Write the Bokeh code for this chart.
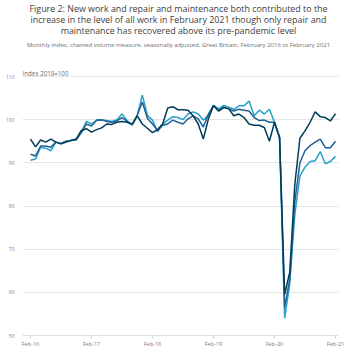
from bokeh.plotting import figure
from bokeh.models import FixedTicker, Label, ColumnDataSource
from bokeh.embed import file_html
from bokeh.resources import INLINE

tick_labels = ["Feb-16", "Feb-17", "Feb-18", "Feb-19", "Feb-20", "Feb-21"]
tick_months = [0, 12, 24, 36, 48, 60]
y_ticks = [50, 60, 70, 80, 90, 100, 110]
months = list(range(61))

repair_maintenance = [
    95.5, 93.7, 95.3, 94.8, 95.5, 94.8, 94.4, 94.8, 95.2, 95.5, 97.5, 97.9,
    97.1, 97.7, 98.1, 99.0, 98.9, 99.4, 99.6, 99.4, 98.9, 100.9, 99.0, 98.0,
    97.0, 97.7, 99.0, 102.7, 103.0, 102.3, 102.3, 102.2, 100.9, 99.0, 95.5, 100.2,
    103.3, 102.0, 102.8, 102.5, 100.9, 101.3, 100.5, 99.0, 98.7, 98.7, 98.2, 95.0,
    99.4, 95.8, 59.5, 64.7, 85.0, 95.7, 97.4, 99.4, 101.8, 100.7, 100.5, 99.7,
    101.4,
]
all_work = [
    92.0, 91.6, 93.9, 93.9, 93.6, 94.8, 94.5, 95.0, 95.2, 95.4, 97.0, 99.0,
    98.5, 99.9, 100.0, 99.6, 99.4, 99.7, 100.5, 99.6, 98.9, 101.0, 104.1, 100.3,
    99.0, 97.5, 98.7, 99.0, 99.9, 99.4, 99.0, 100.2, 100.9, 100.2, 98.3, 101.3,
    103.3, 102.1, 102.9, 102.5, 102.0, 102.4, 102.2, 102.0, 100.5, 99.8, 99.9, 99.4,
    99.4, 95.8, 56.5, 63.0, 81.0, 90.0, 92.8, 94.0, 94.8, 95.5, 93.5, 93.5,
    95.0,
]
new_work = [
    90.6, 90.9, 93.6, 93.4, 92.8, 94.8, 94.4, 95.0, 95.2, 95.3, 97.1, 99.6,
    99.0, 99.8, 99.9, 99.8, 99.6, 100.0, 101.3, 99.8, 98.7, 101.0, 105.7, 101.0,
    99.9, 97.2, 99.0, 99.9, 100.7, 100.5, 100.0, 101.3, 101.8, 101.3, 99.9, 101.0,
    103.3, 102.5, 103.3, 102.9, 102.4, 103.2, 103.2, 104.3, 100.9, 102.2, 101.3, 102.4,
    99.4, 96.0, 54.0, 62.0, 78.0, 87.0, 89.0, 90.3, 90.5, 92.6, 89.8, 90.3,
    91.5,
]

title_lines = [
    "Figure 2: New work and repair and maintenance both contributed to the",
    "increase in the level of all work in February 2021 though only repair and",
    "maintenance has recovered above its pre-pandemic level",
]
subtitle = "Monthly index, chained volume measure, seasonally adjusted, Great Britain, February 2016 to February 2021"
unit_label = "Index 2018=100"

W, H = 348, 356
FL, FR, FB = 22, 10, 21
FRAME_BOTTOM = H - FB            # 335 px from top
PX_PER_UNIT = (FRAME_BOTTOM - 76) / 60.0
Y_TOP = 110 + 76 / PX_PER_UNIT   # frame reaches the top of the canvas so the texts are not clipped

p = figure(width=W, height=H, output_backend="svg", toolbar_location=None, title=None,
           x_range=(-1.57, 60.59), y_range=(50, Y_TOP),
           min_border_left=FL, min_border_right=FR, min_border_top=0, min_border_bottom=FB)
p.outline_line_color = None

src = ColumnDataSource(dict(m=months, rm=repair_maintenance, aw=all_work, nw=new_work))
p.line("m", "nw", source=src, line_color="#27a0cc", line_width=1.5)
p.line("m", "aw", source=src, line_color="#206095", line_width=1.5)
p.line("m", "rm", source=src, line_color="#003c57", line_width=1.5)

p.xgrid.grid_line_color = None
p.ygrid.grid_line_color = "#e6e6e6"
p.yaxis.ticker = FixedTicker(ticks=y_ticks)
p.yaxis.axis_line_color = None
p.yaxis.major_tick_line_color = None
p.yaxis.minor_tick_line_color = None
p.yaxis.major_tick_out = 0
p.yaxis.major_tick_in = 0
p.yaxis.minor_tick_out = 0
p.yaxis.major_label_standoff = 8
p.yaxis.major_label_text_font = "Open Sans"
p.yaxis.major_label_text_font_size = "5px"
p.yaxis.major_label_text_color = "#808080"

p.xaxis.ticker = FixedTicker(ticks=tick_months)
p.xaxis.major_label_overrides = {m: l for m, l in zip(tick_months, tick_labels)}
p.xaxis.axis_line_color = "#e0e0e0"
p.xaxis.major_tick_line_color = "#d0d0d0"
p.xaxis.major_tick_out = 3
p.xaxis.major_tick_in = 0
p.xaxis.minor_tick_line_color = None
p.xaxis.minor_tick_out = 0
p.xaxis.major_label_standoff = 1
p.xaxis.major_label_text_font = "Open Sans"
p.xaxis.major_label_text_font_size = "5.6px"
p.xaxis.major_label_text_color = "#808080"


def add_text(px, py, text, size, color, align="center"):
    # px, py: position in canvas pixels from the top-left corner
    p.add_layout(Label(x=px - FL, y=FRAME_BOTTOM - py, x_units="screen", y_units="screen",
                       text=text, text_font="Open Sans", text_font_size=size,
                       text_color=color, text_align=align, text_baseline="middle"))


for t, py in zip(title_lines, [8, 19, 30]):
    add_text(178, py, t, "8.9px", "#414042")
add_text(178, 44, subtitle, "6px", "#707071")
add_text(22, 73, unit_label, "6.2px", "#707071", align="left")

open("out.html", "w").write(file_html(p, INLINE))
